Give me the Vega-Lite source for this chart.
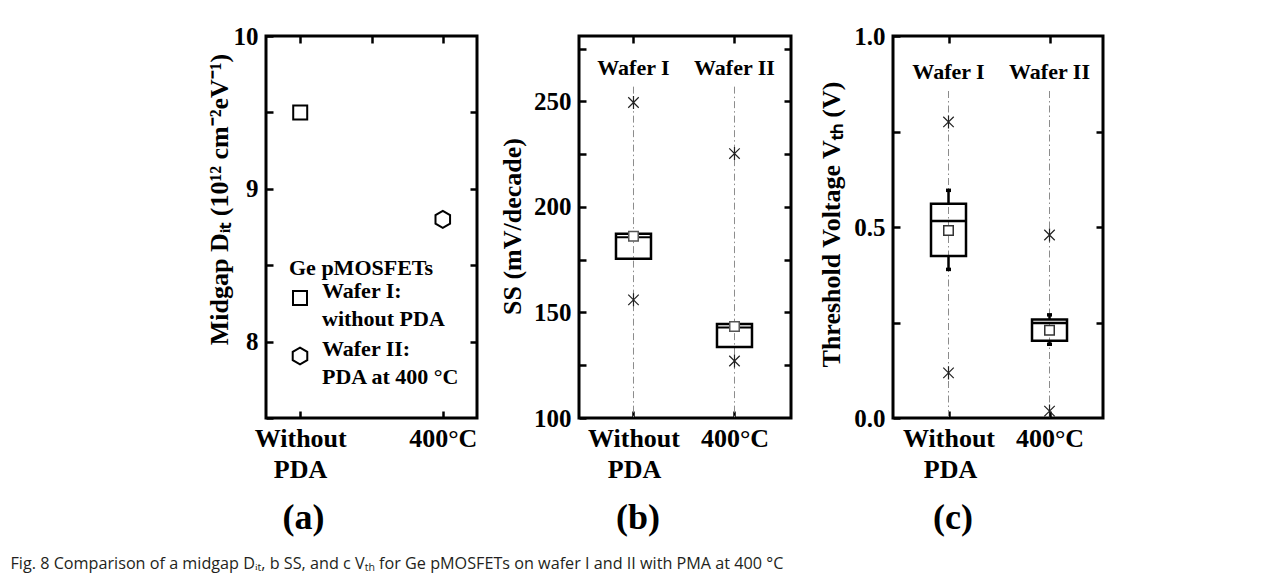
{
  "$schema": "https://vega.github.io/schema/vega-lite/v6.json",
  "background": "white",
  "padding": {"left": 10, "top": 22, "right": 5, "bottom": 5},
  "title": {
    "text": "Fig. 8 Comparison of a midgap Dᵢₜ, b SS, and c Vₜₕ for Ge pMOSFETs on wafer I and II with PMA at 400 °C",
    "orient": "bottom", "anchor": "start", "font": "Open Sans", "fontSize": 16.2, "fontWeight": "normal",
    "color": "#231f20", "offset": 18, "dx": -194
  },
  "datasets": {
    "dit": [
      {"pda": "Without", "pos": 1, "wafer": "Wafer I", "dit": 9.5},
      {"pda": "400°C", "pos": 3, "wafer": "Wafer II", "dit": 8.8}
    ],
    "groups": [
      {"pos": 1, "wafer": "Wafer I"},
      {"pos": 2, "wafer": "Wafer II"}
    ],
    "ss_box": [
      {"pos": 1, "q1": 175.5, "median": 185.7, "q3": 187.3, "mean": 186.1},
      {"pos": 2, "q1": 133.7, "median": 142.9, "q3": 144.5, "mean": 143.4}
    ],
    "ss_out": [
      {"pos": 1, "ss": 249.5},
      {"pos": 1, "ss": 156},
      {"pos": 2, "ss": 225.3},
      {"pos": 2, "ss": 127}
    ],
    "vth_box": [
      {"pos": 1, "lo": 0.389, "q1": 0.424, "median": 0.516, "q3": 0.561, "hi": 0.596, "mean": 0.491},
      {"pos": 2, "lo": 0.193, "q1": 0.202, "median": 0.249, "q3": 0.258, "hi": 0.270, "mean": 0.230}
    ],
    "vth_out": [
      {"pos": 1, "vth": 0.775},
      {"pos": 1, "vth": 0.118},
      {"pos": 2, "vth": 0.479},
      {"pos": 2, "vth": 0.018}
    ]
  },
  "bounds": "flush",
  "spacing": 102,
  "hconcat": [
    {
      "width": 211, "height": 382,
      "title": {"text": "(a)", "orient": "bottom", "anchor": "middle", "dx": -68, "offset": 19,
        "font": "Liberation Serif", "fontSize": 36, "fontWeight": "bold", "color": "black"},
      "data": {"name": "dit"},
      "layer": [
        {
          "mark": {"type": "point", "filled": false, "stroke": "black", "strokeWidth": 2, "size": 196, "opacity": 1},
          "encoding": {
            "x": {"field": "pos", "type": "quantitative", "scale": {"domain": [0.52, 3.48], "nice": false, "zero": false},
              "axis": {"values": [1, 3], "labelExpr": "datum.value == 1 ? 'Without' : '400°C'", "title": "PDA", "titleX": 34}},
            "y": {"field": "dit", "type": "quantitative", "scale": {"domain": [7.5, 10], "nice": false, "zero": false},
              "axis": {"values": [7.5, 8, 8.5, 9, 9.5, 10], "labelExpr": "datum.value % 1 == 0 ? format(datum.value, 'd') : ''",
                "title": "Midgap Dᵢₜ (10¹² cm⁻²eV⁻¹)", "titleY": 163, "titlePadding": 1}},
            "shape": {"field": "wafer", "type": "nominal",
              "scale": {"domain": ["Wafer I", "Wafer II"], "range": ["square", "M0,-1.2L1.04,-0.6L1.04,0.6L0,1.2L-1.04,0.6L-1.04,-0.6Z"]},
              "legend": {"orient": "none", "legendX": 23, "legendY": 222, "title": "Ge pMOSFETs",
                "titleFont": "Liberation Serif", "titleFontSize": 22, "titleFontWeight": "bold", "titleColor": "black", "titlePadding": 7,
                "labelFont": "Liberation Serif", "labelFontSize": 22, "labelFontWeight": "bold", "labelColor": "black",
                "labelExpr": "datum.value == 'Wafer I' ? ['Wafer I:', 'without PDA'] : ['Wafer II:', 'PDA at 400 °C']",
                "labelLimit": 300, "labelOffset": 11, "labelBaseline": "alphabetic", "rowPadding": 8, "padding": 0,
                "symbolSize": 196, "symbolStrokeWidth": 2, "symbolStrokeColor": "black", "symbolFillColor": "transparent"}}
          }
        },
        {
          "mark": {"type": "point", "opacity": 0},
          "encoding": {
            "x": {"field": "pos", "type": "quantitative", "scale": {"domain": [0.52, 3.48], "nice": false, "zero": false},
              "axis": {"orient": "top", "values": [1, 2, 3], "labels": false, "title": null}},
            "y": {"field": "dit", "type": "quantitative", "scale": {"domain": [7.5, 10], "nice": false, "zero": false},
              "axis": {"orient": "right", "values": [8, 8.5, 9, 9.5], "labels": false, "title": null}}
          }
        }
      ],
      "resolve": {"axis": {"x": "independent", "y": "independent"}}
    },
    {
      "width": 212, "height": 382,
      "title": {"text": "(b)", "orient": "bottom", "anchor": "middle", "dx": -47, "offset": 19,
        "font": "Liberation Serif", "fontSize": 36, "fontWeight": "bold", "color": "black"},
      "layer": [
        {
          "data": {"name": "groups"},
          "mark": {"type": "rule", "color": "#8c8c8c", "strokeWidth": 1, "strokeDash": [7, 3, 1.5, 3]},
          "encoding": {
            "x": {"field": "pos", "type": "quantitative", "scale": {"domain": [0.51, 2.51], "nice": false, "zero": false},
              "axis": {"values": [1, 2], "labelExpr": "datum.value == 1 ? 'Without' : '400°C'", "title": "PDA", "titleX": 55}},
            "y": {"datum": 257, "type": "quantitative", "scale": {"domain": [100, 281], "nice": false, "zero": false},
              "axis": {"values": [100, 125, 150, 175, 200, 225, 250, 275], "labelExpr": "datum.value % 50 == 0 ? format(datum.value, 'd') : ''",
                "title": "SS (mV/decade)", "titleY": 190, "titlePadding": 8}},
            "y2": {"datum": 100}
          }
        },
        {
          "data": {"name": "groups"},
          "mark": {"type": "text", "font": "Liberation Serif", "fontWeight": "bold", "fontSize": 22, "color": "black"},
          "encoding": {
            "x": {"field": "pos", "type": "quantitative", "scale": {"domain": [0.51, 2.51], "nice": false, "zero": false}, "axis": null},
            "y": {"datum": 266, "type": "quantitative", "scale": {"domain": [100, 281], "nice": false, "zero": false}, "axis": null},
            "text": {"field": "wafer"}
          }
        },
        {
          "data": {"name": "ss_box"},
          "mark": {"type": "bar", "width": 35, "fill": "transparent", "stroke": "black", "strokeWidth": 2.5},
          "encoding": {
            "x": {"field": "pos", "type": "quantitative", "scale": {"domain": [0.51, 2.51], "nice": false, "zero": false}, "axis": null},
            "y": {"field": "q1", "type": "quantitative", "scale": {"domain": [100, 281], "nice": false, "zero": false}, "axis": null},
            "y2": {"field": "q3"}
          }
        },
        {
          "data": {"name": "ss_box"},
          "mark": {"type": "tick", "orient": "horizontal", "size": 35, "thickness": 2, "color": "black", "opacity": 1},
          "encoding": {
            "x": {"field": "pos", "type": "quantitative", "scale": {"domain": [0.51, 2.51], "nice": false, "zero": false}, "axis": null},
            "y": {"field": "median", "type": "quantitative", "scale": {"domain": [100, 281], "nice": false, "zero": false}, "axis": null}
          }
        },
        {
          "data": {"name": "ss_box"},
          "mark": {"type": "point", "shape": "square", "size": 90, "filled": true, "fill": "white", "stroke": "#555555", "strokeWidth": 1.5, "opacity": 1},
          "encoding": {
            "x": {"field": "pos", "type": "quantitative", "scale": {"domain": [0.51, 2.51], "nice": false, "zero": false}, "axis": null},
            "y": {"field": "mean", "type": "quantitative", "scale": {"domain": [100, 281], "nice": false, "zero": false}, "axis": null}
          }
        },
        {
          "data": {"name": "ss_out"},
          "mark": {"type": "point", "shape": "M-1,-1L1,1M-1,1L1,-1M0,-1.25L0,1.25", "size": 110, "filled": false, "stroke": "#222222", "strokeWidth": 1.2, "opacity": 1},
          "encoding": {
            "x": {"field": "pos", "type": "quantitative", "scale": {"domain": [0.51, 2.51], "nice": false, "zero": false}, "axis": null},
            "y": {"field": "ss", "type": "quantitative", "scale": {"domain": [100, 281], "nice": false, "zero": false}, "axis": null}
          }
        },
        {
          "data": {"name": "groups"},
          "mark": {"type": "point", "opacity": 0},
          "encoding": {
            "x": {"field": "pos", "type": "quantitative", "scale": {"domain": [0.51, 2.51], "nice": false, "zero": false},
              "axis": {"orient": "top", "values": [1, 2], "labels": false, "title": null}},
            "y": {"datum": 200, "type": "quantitative", "scale": {"domain": [100, 281], "nice": false, "zero": false},
              "axis": {"orient": "right", "values": [125, 150, 175, 200, 225, 250, 275], "labels": false, "title": null}}
          }
        }
      ],
      "resolve": {"axis": {"x": "independent", "y": "independent"}}
    },
    {
      "width": 210, "height": 382,
      "title": {"text": "(c)", "orient": "bottom", "anchor": "middle", "dx": -45, "offset": 19,
        "font": "Liberation Serif", "fontSize": 36, "fontWeight": "bold", "color": "black"},
      "layer": [
        {
          "data": {"name": "groups"},
          "mark": {"type": "rule", "color": "#8c8c8c", "strokeWidth": 1, "strokeDash": [7, 3, 1.5, 3]},
          "encoding": {
            "x": {"field": "pos", "type": "quantitative", "scale": {"domain": [0.5, 2.48], "nice": false, "zero": false},
              "axis": {"values": [1, 2], "labelExpr": "datum.value == 1 ? 'Without' : '400°C'", "title": "PDA", "titleX": 57}},
            "y": {"datum": 0.856, "type": "quantitative", "scale": {"domain": [0, 1], "nice": false, "zero": false},
              "axis": {"values": [0, 0.25, 0.5, 0.75, 1], "labelExpr": "datum.value == 0 || datum.value == 0.5 || datum.value == 1 ? format(datum.value, '.1f') : ''",
                "title": "Threshold Voltage Vₜₕ (V)", "titleY": 188, "titlePadding": 9}},
            "y2": {"datum": 0}
          }
        },
        {
          "data": {"name": "groups"},
          "mark": {"type": "text", "font": "Liberation Serif", "fontWeight": "bold", "fontSize": 22, "color": "black"},
          "encoding": {
            "x": {"field": "pos", "type": "quantitative", "scale": {"domain": [0.5, 2.48], "nice": false, "zero": false}, "axis": null},
            "y": {"datum": 0.906, "type": "quantitative", "scale": {"domain": [0, 1], "nice": false, "zero": false}, "axis": null},
            "text": {"field": "wafer"}
          }
        },
        {
          "data": {"name": "vth_box"},
          "mark": {"type": "rule", "color": "black", "strokeWidth": 2.5},
          "encoding": {
            "x": {"field": "pos", "type": "quantitative", "scale": {"domain": [0.5, 2.48], "nice": false, "zero": false}, "axis": null},
            "y": {"field": "q3", "type": "quantitative", "scale": {"domain": [0, 1], "nice": false, "zero": false}, "axis": null},
            "y2": {"field": "hi"}
          }
        },
        {
          "data": {"name": "vth_box"},
          "mark": {"type": "rule", "color": "black", "strokeWidth": 2.5},
          "encoding": {
            "x": {"field": "pos", "type": "quantitative", "scale": {"domain": [0.5, 2.48], "nice": false, "zero": false}, "axis": null},
            "y": {"field": "lo", "type": "quantitative", "scale": {"domain": [0, 1], "nice": false, "zero": false}, "axis": null},
            "y2": {"field": "q1"}
          }
        },
        {
          "data": {"name": "vth_box"},
          "mark": {"type": "tick", "orient": "horizontal", "size": 5, "thickness": 3.5, "color": "black", "opacity": 1},
          "encoding": {
            "x": {"field": "pos", "type": "quantitative", "scale": {"domain": [0.5, 2.48], "nice": false, "zero": false}, "axis": null},
            "y": {"field": "hi", "type": "quantitative", "scale": {"domain": [0, 1], "nice": false, "zero": false}, "axis": null}
          }
        },
        {
          "data": {"name": "vth_box"},
          "mark": {"type": "tick", "orient": "horizontal", "size": 5, "thickness": 3.5, "color": "black", "opacity": 1},
          "encoding": {
            "x": {"field": "pos", "type": "quantitative", "scale": {"domain": [0.5, 2.48], "nice": false, "zero": false}, "axis": null},
            "y": {"field": "lo", "type": "quantitative", "scale": {"domain": [0, 1], "nice": false, "zero": false}, "axis": null}
          }
        },
        {
          "data": {"name": "vth_box"},
          "mark": {"type": "bar", "width": 35, "fill": "transparent", "stroke": "black", "strokeWidth": 2.5},
          "encoding": {
            "x": {"field": "pos", "type": "quantitative", "scale": {"domain": [0.5, 2.48], "nice": false, "zero": false}, "axis": null},
            "y": {"field": "q1", "type": "quantitative", "scale": {"domain": [0, 1], "nice": false, "zero": false}, "axis": null},
            "y2": {"field": "q3"}
          }
        },
        {
          "data": {"name": "vth_box"},
          "mark": {"type": "tick", "orient": "horizontal", "size": 35, "thickness": 2.5, "color": "black", "opacity": 1},
          "encoding": {
            "x": {"field": "pos", "type": "quantitative", "scale": {"domain": [0.5, 2.48], "nice": false, "zero": false}, "axis": null},
            "y": {"field": "median", "type": "quantitative", "scale": {"domain": [0, 1], "nice": false, "zero": false}, "axis": null}
          }
        },
        {
          "data": {"name": "vth_box"},
          "mark": {"type": "point", "shape": "square", "size": 90, "filled": true, "fill": "white", "stroke": "#333333", "strokeWidth": 1.5, "opacity": 1},
          "encoding": {
            "x": {"field": "pos", "type": "quantitative", "scale": {"domain": [0.5, 2.48], "nice": false, "zero": false}, "axis": null},
            "y": {"field": "mean", "type": "quantitative", "scale": {"domain": [0, 1], "nice": false, "zero": false}, "axis": null}
          }
        },
        {
          "data": {"name": "vth_out"},
          "mark": {"type": "point", "shape": "M-1,-1L1,1M-1,1L1,-1M0,-1.25L0,1.25", "size": 110, "filled": false, "stroke": "#222222", "strokeWidth": 1.2, "opacity": 1},
          "encoding": {
            "x": {"field": "pos", "type": "quantitative", "scale": {"domain": [0.5, 2.48], "nice": false, "zero": false}, "axis": null},
            "y": {"field": "vth", "type": "quantitative", "scale": {"domain": [0, 1], "nice": false, "zero": false}, "axis": null}
          }
        },
        {
          "data": {"name": "groups"},
          "mark": {"type": "point", "opacity": 0},
          "encoding": {
            "x": {"field": "pos", "type": "quantitative", "scale": {"domain": [0.5, 2.48], "nice": false, "zero": false},
              "axis": {"orient": "top", "values": [1, 2], "labels": false, "title": null}},
            "y": {"datum": 0.5, "type": "quantitative", "scale": {"domain": [0, 1], "nice": false, "zero": false},
              "axis": {"orient": "right", "values": [0.25, 0.5, 0.75], "labels": false, "title": null}}
          }
        }
      ],
      "resolve": {"axis": {"x": "independent", "y": "independent"}}
    }
  ],
  "config": {
    "view": {"stroke": "black", "strokeWidth": 3},
    "style": {"guide-label": {"lineHeight": 28}},
    "axis": {
      "domain": false, "grid": false, "ticks": true, "tickSize": -7, "tickWidth": 2.5, "tickColor": "black",
      "labelFont": "Liberation Serif", "labelFontWeight": "bold", "labelColor": "black", "labelFlush": false, "labelOverlap": false,
      "titleFont": "Liberation Serif", "titleFontWeight": "bold", "titleColor": "black", "titleFontSize": 26
    },
    "axisY": {"labelFontSize": 25, "labelPadding": 15},
    "axisX": {"labelFontSize": 26, "labelPadding": 14, "titlePadding": 5}
  }
}
